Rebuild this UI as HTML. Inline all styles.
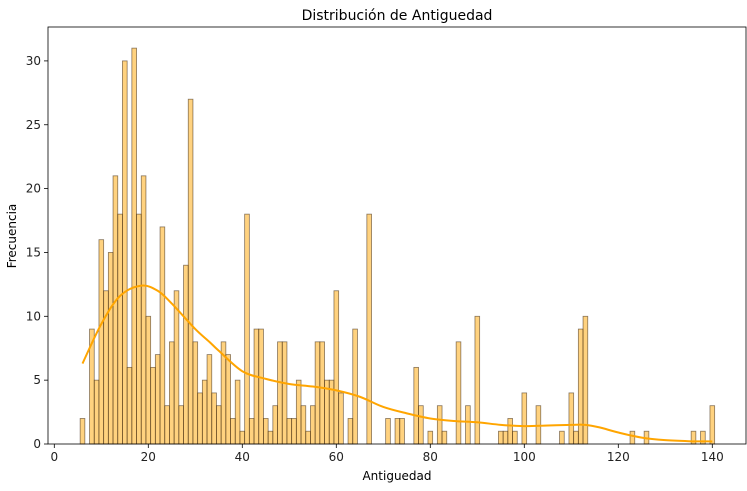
<!DOCTYPE html>
<html><head><meta charset="utf-8"><style>
body{margin:0;background:#fff;font-family:"Liberation Sans",sans-serif}
svg text{font-family:"DejaVu Sans","Liberation Sans",sans-serif}
</style></head><body>
<svg id="chart" width="747" height="486" xmlns="http://www.w3.org/2000/svg"></svg>
<script>
const binStart = 5.5;
const binWidth = 1;
const counts = [2,0,9,5,16,12,15,21,18,30,6,31,18,21,10,6,7,17,3,8,12,3,14,27,8,4,5,7,4,3,8,7,2,5,1,18,2,9,9,2,1,3,8,8,2,2,5,3,1,3,8,8,5,5,12,4,0,2,9,0,0,18,0,0,0,2,0,2,2,0,0,6,3,0,1,0,3,1,0,0,8,0,3,0,10,0,0,0,0,1,1,2,1,0,4,0,0,3,0,0,0,0,1,0,4,1,9,10,0,0,0,0,0,0,0,0,0,1,0,0,1,0,0,0,0,0,0,0,0,0,1,0,1,0,3];
const kdeX = [6,10,14,18.5,22,25,30,33,35,40,45,50,55,60,65,70,75,80,85,90,95,100,105,110,113,116,120,125,130,135,140];
const kdeY = [6.3,9.4,11.6,12.4,12.0,11.0,9.0,8.0,7.3,5.7,5.1,4.7,4.5,4.2,3.7,2.9,2.4,2.0,1.8,1.7,1.5,1.4,1.45,1.5,1.5,1.3,0.9,0.5,0.3,0.22,0.2];
const xTicks = [0,20,40,60,80,100,120,140];
const yTicks = [0,5,10,15,20,25,30];

const L=48,R=746,T=27,B=444;
const sx=v=>54.3+v*4.7;
const sy=v=>B-v*12.77;
const svg=document.getElementById('chart');
const NS='http://www.w3.org/2000/svg';
function mk(tag,attrs,parent){const e=document.createElementNS(NS,tag);for(const k in attrs)e.setAttribute(k,attrs[k]);(parent||svg).appendChild(e);return e;}

const bars=mk('g',{});


counts.forEach((c,i)=>{
  if(c<=0)return;
  const x0=sx(binStart+i*binWidth),x1=sx(binStart+(i+1)*binWidth);
  const r=mk('rect',{x:x0,y:sy(c),width:x1-x0,height:sy(0)-sy(c),fill:'rgba(255,165,0,0.5)',stroke:'rgba(60,40,20,0.6)','stroke-width':0.8},bars);
  
  
});

// KDE line (Catmull-Rom)
const pts=kdeX.map((x,i)=>[sx(x),sy(kdeY[i])]);
let d=`M${pts[0][0]},${pts[0][1]}`;
for(let i=0;i<pts.length-1;i++){
  const p0=pts[Math.max(0,i-1)],p1=pts[i],p2=pts[i+1],p3=pts[Math.min(pts.length-1,i+2)];
  const c1=[p1[0]+(p2[0]-p0[0])/6,p1[1]+(p2[1]-p0[1])/6];
  const c2=[p2[0]-(p3[0]-p1[0])/6,p2[1]-(p3[1]-p1[1])/6];
  d+=` C${c1[0]},${c1[1]} ${c2[0]},${c2[1]} ${p2[0]},${p2[1]}`;
}
const kde=mk('path',{d:d,fill:'none',stroke:'#FFA500','stroke-width':2});



const frame=mk('rect',{x:L,y:T,width:R-L,height:B-T,fill:'none',stroke:'#000','stroke-width':0.8});



xTicks.forEach(t=>{
  const x=sx(t);
  const ln=mk('line',{x1:x,x2:x,y1:B,y2:B+4,stroke:'#000','stroke-width':0.8});
  
  
  const tx=mk('text',{x:x,y:B+17,'text-anchor':'middle','font-size':12,fill:'#222'});
  tx.textContent=t;
  
  
});
yTicks.forEach(t=>{
  const y=sy(t);
  const ln=mk('line',{x1:L-4,x2:L,y1:y,y2:y,stroke:'#000','stroke-width':0.8});
  
  
  const tx=mk('text',{x:L-7,y:y+4,'text-anchor':'end','font-size':12,fill:'#222'});
  tx.textContent=t;
  
  
});
const title=mk('text',{x:397,y:20,'text-anchor':'middle','font-size':14,fill:'#000'});
title.textContent='Distribución de Antiguedad';


const xl=mk('text',{x:397,y:480,'text-anchor':'middle','font-size':12,fill:'#000'});
xl.textContent='Antiguedad';


const yl=mk('text',{x:16,y:236,'text-anchor':'middle','font-size':12,fill:'#000',transform:'rotate(-90 16 236)'});
yl.textContent='Frecuencia';


</script>
</body></html>
